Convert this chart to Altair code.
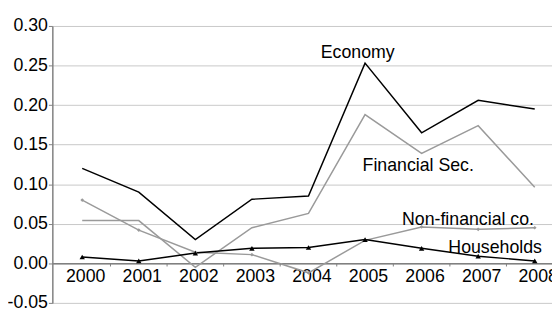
import altair as alt
import pandas as pd

years = [2000, 2001, 2002, 2003, 2004, 2005, 2006, 2007, 2008]
economy = [0.120, 0.090, 0.030, 0.081, 0.085, 0.253, 0.165, 0.206, 0.195]
financial = [0.054, 0.054, -0.005, 0.045, 0.063, 0.188, 0.139, 0.174, 0.096]
nonfinancial = [0.080, 0.042, 0.014, 0.011, -0.012, 0.029, 0.046, 0.043, 0.045]
households = [0.008, 0.003, 0.013, 0.019, 0.020, 0.030, 0.019, 0.009, 0.003]

series_names = ["Economy", "Financial Sec.", "Non-financial co.", "Households"]
series_colors = ["#000000", "#9a9a9a", "#9a9a9a", "#000000"]

label_text = ["Economy", "Financial Sec.", "Non-financial co.", "Households"]
label_year = [2004.87, 2005.94, 2006.82, 2007.30]
label_value = [0.260, 0.117, 0.0485, 0.0129]

y_ticks = [-0.05, 0.0, 0.05, 0.10, 0.15, 0.20, 0.25, 0.30]

FONT = "Liberation Sans"

rows = []
for name, vals in zip(series_names, [economy, financial, nonfinancial, households]):
    for yr, v in zip(years, vals):
        rows.append({"year": yr, "value": v, "series": name})
df = pd.DataFrame(rows)

labels_df = pd.DataFrame({"text": label_text, "year": label_year, "value": label_value})
bounds_df = pd.DataFrame({"year": [y + 0.5 for y in years[:-1]]})

x_scale = alt.Scale(domain=[1999.472, 2008.305], nice=False, zero=False)
y_scale = alt.Scale(domain=[-0.05, 0.30], nice=False, zero=False)

x_enc = alt.X(
    "year:Q",
    scale=x_scale,
    title=None,
    axis=alt.Axis(
        values=years, format="d", ticks=False, tickSize=0, grid=False,
        offset=-40.14, labelPadding=4, labelOffset=3,
        domainColor="#808080", domainWidth=1.5,
        labelFont=FONT, labelFontSize=18, labelColor="#000",
        labelFlush=False, labelOverlap=False,
    ),
)
y_enc = alt.Y(
    "value:Q",
    scale=y_scale,
    title=None,
    axis=alt.Axis(
        values=y_ticks,
        labelExpr="datum.value < -0.0001 ? '-' + format(-datum.value, '.2f') : format(datum.value, '.2f')",
        tickSize=4, tickColor="#808080", domainColor="#808080", domainWidth=1.5,
        gridColor="#c8c8c8", gridWidth=1,
        labelFont=FONT, labelFontSize=18, labelColor="#000", labelPadding=1,
        labelFlush=False, labelOverlap=False,
    ),
)
color_enc = alt.Color(
    "series:N",
    scale=alt.Scale(domain=series_names, range=series_colors),
    legend=None,
)

base = alt.Chart(df)

lines = base.mark_line(strokeWidth=1.5).encode(
    x=x_enc, y=y_enc, color=color_enc, detail="series:N"
)

tri = base.transform_filter(alt.datum.series == "Households").mark_point(
    shape="triangle-up", filled=True, size=30, color="#000", opacity=1
).encode(x=x_enc, y=y_enc)

dia = base.transform_filter(alt.datum.series == "Non-financial co.").mark_point(
    shape="diamond", filled=True, size=14, color="#9a9a9a", opacity=1
).encode(x=x_enc, y=y_enc)

ticks = alt.Chart(bounds_df).mark_rule(color="#808080", strokeWidth=1).encode(
    x=alt.X("year:Q", scale=x_scale, title=None),
    y=alt.Y(datum=0.0, scale=y_scale),
    y2=alt.Y2(datum=-0.004),
)

texts = alt.Chart(labels_df).mark_text(
    font=FONT, fontSize=18, color="#000", align="center", baseline="alphabetic"
).encode(
    x=alt.X("year:Q", scale=x_scale, title=None),
    y=alt.Y("value:Q", scale=y_scale, title=None),
    text="text:N",
)

chart = alt.layer(lines, dia, tri, ticks, texts).properties(
    width=507,
    height=281,
    padding={"left": 45, "top": 16, "right": 0, "bottom": 6},
    autosize=alt.AutoSizeParams(type="none"),
    background="#ffffff",
).configure_view(stroke=None)

chart.save("out.html", embed_options={"renderer": "svg", "actions": False})
